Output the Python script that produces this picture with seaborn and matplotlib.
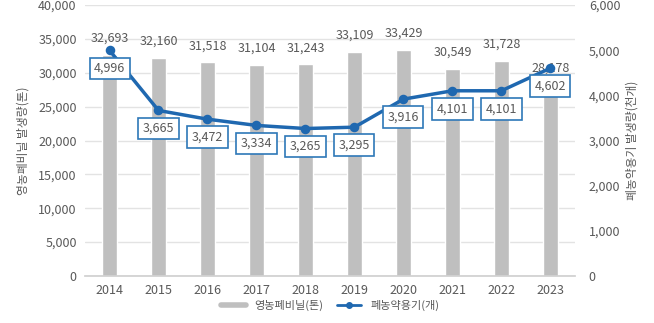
import matplotlib
matplotlib.use("Agg")
import matplotlib.pyplot as plt
import seaborn as sns
import numpy as np
import pandas as pd
from matplotlib.lines import Line2D

years = ["2014", "2015", "2016", "2017", "2018", "2019", "2020", "2021", "2022", "2023"]
vinyl_tons = [32693, 32160, 31518, 31104, 31243, 33109, 33429, 30549, 31728, 28178]
containers = [4996, 3665, 3472, 3334, 3265, 3295, 3916, 4101, 4101, 4602]

left_ticks = list(range(0, 40001, 5000))
right_ticks = list(range(0, 6001, 1000))

sns.set_theme(style="white")
plt.rcParams["font.family"] = ["Noto Sans CJK KR", "DejaVu Sans"]

BAR_COLOR = "#bfbfbf"
LINE_COLOR = "#1f68b0"
BOX_EDGE = "#2e78b8"
TEXT_COLOR = "#595959"

df = pd.DataFrame({"year": years, "vinyl": vinyl_tons, "cont": containers})

fig = plt.figure(figsize=(6.54, 3.23), dpi=100)
ax = fig.add_axes([0.130, 0.1455, 0.749, 0.839])

sns.barplot(data=df, x="year", y="vinyl", color=BAR_COLOR, width=0.3,
            saturation=1, ax=ax, zorder=2)
ax.set_ylim(0, 40000)
ax.set_yticks(left_ticks)
ax.set_yticklabels([f"{t:,}" for t in left_ticks])
ax.set_xlim(-0.5, 9.5)
ax.yaxis.grid(True, color="#e3e3e3", linewidth=1, zorder=0)
ax.set_axisbelow(True)
for s in ["top", "right", "left"]:
    ax.spines[s].set_visible(False)
ax.spines["bottom"].set_color("#d0d0d0")
ax.tick_params(axis="both", length=0, labelsize=9, colors=TEXT_COLOR, pad=6)
ax.set_xlabel("")
ax.set_ylabel("영농폐비닐 발생량(톤)", fontsize=8.5, color=TEXT_COLOR, labelpad=6)

for i, v in enumerate(vinyl_tons):
    ax.annotate(f"{v:,}", xy=(i, v), xytext=(0, 12), textcoords="offset points",
                ha="center", va="center", fontsize=9, color=TEXT_COLOR, zorder=3)

ax2 = ax.twinx()
sns.pointplot(data=df, x="year", y="cont", color=LINE_COLOR, markers="o",
              markersize=5, linewidth=2.5, ax=ax2, zorder=5)
ax2.set_ylim(0, 6000)
ax2.set_yticks(right_ticks)
ax2.set_yticklabels([f"{t:,}" for t in right_ticks])
ax2.set_xlim(-0.5, 9.5)
for s in ["top", "right", "left", "bottom"]:
    ax2.spines[s].set_visible(False)
ax2.tick_params(axis="y", length=0, labelsize=9, colors=TEXT_COLOR, pad=10)
ax2.set_ylabel("폐농약용기 발생량(천개)", fontsize=8.5, color=TEXT_COLOR,
               rotation=90, labelpad=4)
ax2.yaxis.set_label_position("right")

for i, v in enumerate(containers):
    ax2.annotate(f"{v:,}", xy=(i, v), xytext=(0, -13), textcoords="offset points",
                 ha="center", va="center", fontsize=9, color=TEXT_COLOR, zorder=6,
                 bbox=dict(boxstyle="square,pad=0.35", fc="white", ec=BOX_EDGE, lw=1.2))

handles = [
    Line2D([0], [0], color=BAR_COLOR, lw=4),
    Line2D([0], [0], color=LINE_COLOR, lw=2, marker="o", markersize=4),
]
fig.legend(handles, ["영농폐비닐(톤)", "폐농약용기(개)"], loc="center",
           bbox_to_anchor=(0.505, 0.055), ncol=2, frameon=False, fontsize=8,
           handlelength=2.2, columnspacing=1.2, labelcolor=TEXT_COLOR)

fig.savefig("out.png", dpi=100)
